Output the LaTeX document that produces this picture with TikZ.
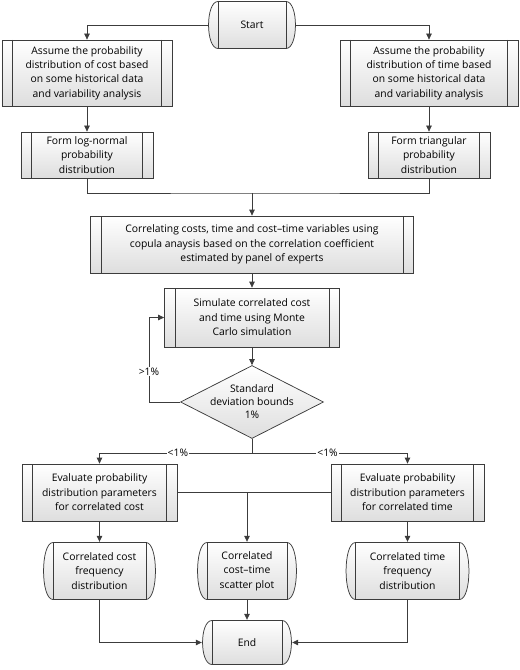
\documentclass[tikz,border=0pt]{standalone}
\usepackage{fontspec}
\setmainfont{Open Sans}
\usepackage{tikz}
\usetikzlibrary{arrows.meta,shapes,calc}
\definecolor{lineC}{HTML}{3C3C3C}
\tikzstyle{edge}=[draw=lineC, line width=0.75pt]
\tikzstyle{arr}=[edge, -{Triangle[length=6bp, width=5.5bp]}]
\tikzstyle{lbl}=[fill=white, inner sep=1pt, font=\fontsize{10.4}{12}\selectfont]
\tikzstyle{procBox}=[rectangle, draw=lineC, line width=0.75pt, top color=white, bottom color=black!13,
  align=center, inner sep=0pt, font=\fontsize{10.4}{14.5}\selectfont,
  path picture={
    \draw[lineC, line width=0.75pt] ([xshift=10.5bp]path picture bounding box.north west) -- ([xshift=10.5bp]path picture bounding box.south west);
    \draw[lineC, line width=0.75pt] ([xshift=-10.5bp]path picture bounding box.north east) -- ([xshift=-10.5bp]path picture bounding box.south east);
  }]
\tikzstyle{termBox}=[rectangle, align=center, inner sep=0pt, font=\fontsize{10.4}{14.5}\selectfont,
  path picture={
    \shade[draw=lineC, line width=0.75pt, top color=white, bottom color=black!13]
      ([shift={(10bp,-0.5bp)}]path picture bounding box.north west)
      -- ([shift={(-10bp,-0.5bp)}]path picture bounding box.north east)
      .. controls ([shift={(2.6bp,-0.5bp)}]path picture bounding box.north east) and ([shift={(2.6bp,0.5bp)}]path picture bounding box.south east)
      .. ([shift={(-10bp,0.5bp)}]path picture bounding box.south east)
      -- ([shift={(10bp,0.5bp)}]path picture bounding box.south west)
      .. controls ([shift={(-2.6bp,0.5bp)}]path picture bounding box.south west) and ([shift={(-2.6bp,-0.5bp)}]path picture bounding box.north west)
      .. cycle;
    \draw[lineC, line width=0.75pt] ([xshift=10bp]path picture bounding box.north west) -- ([xshift=10bp]path picture bounding box.south west);
    \draw[lineC, line width=0.75pt] ([xshift=-10bp]path picture bounding box.north east) -- ([xshift=-10bp]path picture bounding box.south east);
  }]
\tikzstyle{decBox}=[diamond, draw=lineC, line width=0.75pt, top color=white, bottom color=black!13,
  inner sep=0pt, minimum width=143bp, minimum height=73bp]

\begin{document}
\begin{tikzpicture}[x=1bp, y=-1bp]
  \useasboundingbox (0,0) rectangle (520,670);
  % top row
  \node(start) [termBox, minimum width=88bp, minimum height=48bp] at (252, 25){Start};
  \node(costA) [procBox, minimum width=170bp, minimum height=66bp] at (87, 73){Assume the probability\\distribution of cost based\\on some historical data\\and variability analysis};
  \node(timeA) [procBox, minimum width=178bp, minimum height=66bp] at (429, 73){Assume the probability\\distribution of time based\\on some historical data\\and variability analysis};
  \node(costB) [procBox, minimum width=132bp, minimum height=46bp] at (87, 155){Form log-normal\\probability\\distribution};
  \node(timeB) [procBox, minimum width=122bp, minimum height=46bp] at (429, 155){Form triangular\\probability\\distribution};
  % middle
  \coordinate(join) at (252, 193);
  \node(corr) [procBox, minimum width=323bp, minimum height=57bp] at (252, 244.5){Correlating costs, time and cost--time variables using\\copula anaysis based on the correlation coefficient\\estimated by panel of experts};
  \node(sim) [procBox, minimum width=175bp, minimum height=59bp] at (252, 317.5){Simulate correlated cost\\and time using Monte\\Carlo simulation};
  \node(dec) [decBox, label={[align=center, font=\fontsize{10.4}{13}\selectfont]center:Standard\\deviation bounds\\1\%}] at (252, 402){};
  \coordinate(loop) at (149, 317.5);
  \coordinate(split) at (252, 453);
  % bottom
  \node(evalC) [procBox, minimum width=155bp, minimum height=57bp] at (99.5, 492.5){Evaluate probability\\distribution parameters\\for correlated cost};
  \node(evalT) [procBox, minimum width=153bp, minimum height=57bp] at (407.5, 492.5){Evaluate probability\\distribution parameters\\for correlated time};
  \coordinate(mid) at (247, 492.5);
  \node(corrC) [termBox, minimum width=113bp, minimum height=58bp] at (99.5, 571){Correlated cost\\frequency\\distribution};
  \node(scat) [termBox, minimum width=100bp, minimum height=58bp] at (247, 571){Correlated\\cost--time\\scatter plot};
  \node(corrT) [termBox, minimum width=124bp, minimum height=58bp] at (407.5, 571){Correlated time\\frequency\\distribution};
  \node(end) [termBox, minimum width=90bp, minimum height=45bp] at (247, 642.5){End};
  \draw[arr] (start) -| (costA);
  \draw[arr] (start) -| (timeA);
  \draw[arr] (costA) to (costB);
  \draw[arr] (timeA) to (timeB);
  \draw[edge] (costB) |- (join) -| (timeB);
  \draw[arr] (join) to (corr);
  \draw[arr] (corr) to (sim);
  \draw[arr] (sim) to (dec);
  \draw[arr] (dec) -| node[lbl, pos=0.68]{>1\%} (loop) to (sim);
  \draw[edge] (dec) to (split);
  \draw[arr] (split) -| node[lbl, pos=0.243]{<1\%} (evalC);
  \draw[arr] (split) -| node[lbl, pos=0.243]{<1\%} (evalT);
  \draw[edge] (evalC) to (evalT);
  \draw[arr] (mid) to (scat);
  \draw[arr] (evalC) to (corrC);
  \draw[arr] (evalT) to (corrT);
  \draw[arr] (scat) to (end);
  \draw[arr] (corrC) |- (end);
  \draw[arr] (corrT) |- (end);
\end{tikzpicture}
\end{document}
